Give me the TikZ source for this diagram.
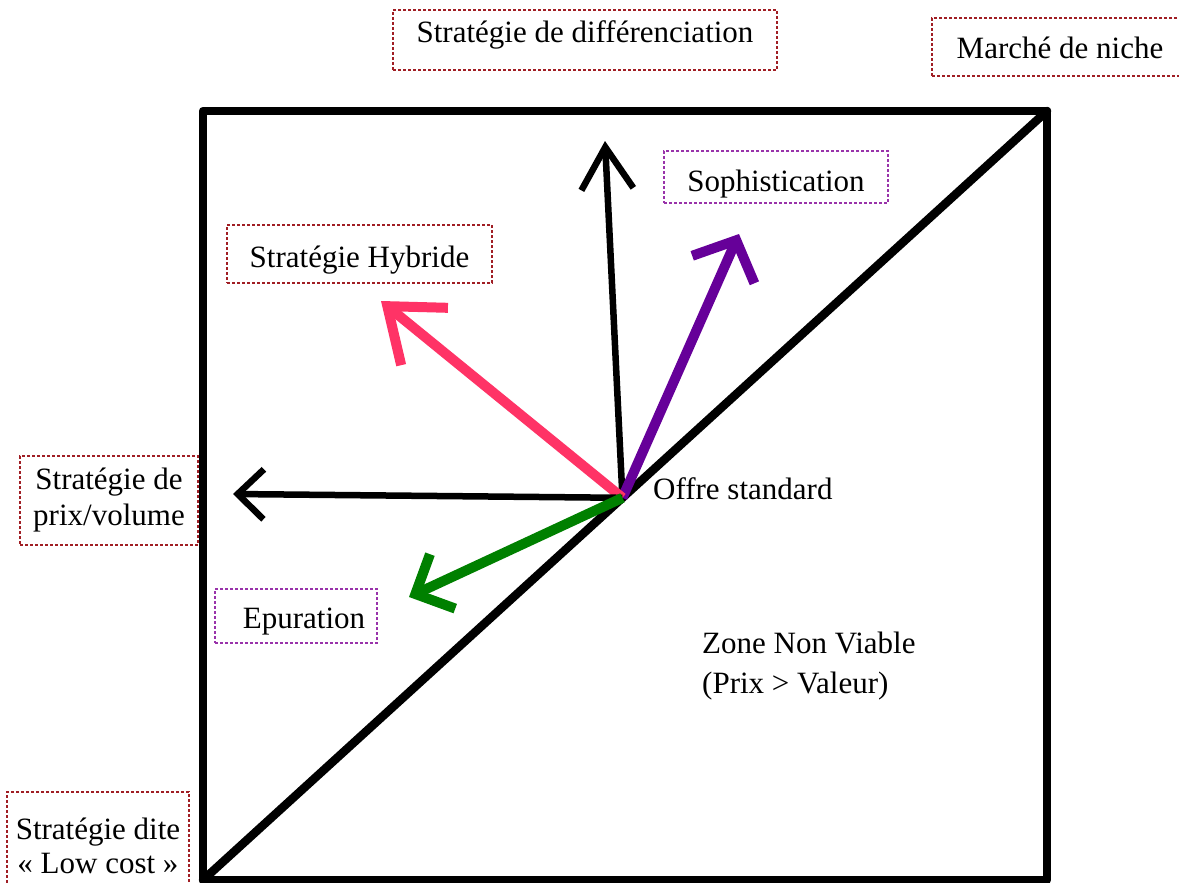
\documentclass[tikz,border=0pt]{standalone}
\usepackage{fontspec}
\setmainfont{Liberation Serif}
\usetikzlibrary{arrows.meta,calc}
\definecolor{boxred}{HTML}{A01E24}
\definecolor{boxpurple}{HTML}{9933AA}
\definecolor{arrpink}{HTML}{FF3366}
\definecolor{arrpurple}{HTML}{660099}
\definecolor{arrgreen}{HTML}{008000}
\newcommand{\mvtxt}[2]{\raisebox{#1}[\height][\depth]{#2}}
\tikzset{
  lbl/.style={font=\fontsize{31}{36}\selectfont, inner sep=0pt, align=center},
  dotbox/.style={lbl, draw=boxred, line width=1.4pt, dash pattern=on 3pt off 2pt, rectangle},
  dotboxp/.style={dotbox, draw=boxpurple},
  frame/.style={draw=black, line width=8.5pt, line join=round, outer sep=0pt, inner sep=0pt},
  blackarrow/.style={line width=6.5pt, black},
  colarrow/.style={line width=10pt},
}
\begin{document}
\begin{tikzpicture}[x=1pt,y=-1pt]
\useasboundingbox (0,0) rectangle (1179,883);

% square frame and diagonal
\node[frame, minimum width=844pt, minimum height=769pt] (sq) at (625,495.5) {};
\draw[line width=8.5pt, line cap=round] (sq.south west) -- (sq.north east);

\coordinate (O) at ($(sq.south west)!0.497!(sq.north east)$);
\coordinate (tipUp) at (605,141);
\coordinate (tipPurple) at (739,234);
\coordinate (tipPink) at (381,301);
\coordinate (tipLeft) at (233,494);
\coordinate (tipGreen) at (409,597);

% arrows
\draw[blackarrow, -{Straight Barb[length=42pt,width=52pt]}] (O) -- (tipUp);
\draw[colarrow, arrpurple, -{Straight Barb[length=32pt,width=68pt]}] (O) -- (tipPurple);
\draw[colarrow, arrpink, -{Straight Barb[length=48pt,width=74pt]}] (O) -- (tipPink);
\draw[blackarrow, -{Straight Barb[length=26pt,width=50pt]}] (O) -- (tipLeft);
\draw[colarrow, arrgreen, -{Straight Barb[length=30pt,width=60pt]}] (O) -- (tipGreen);

% labels
\node[dotbox, minimum width=384pt, minimum height=60pt] (diff) at (585,40) {\mvtxt{5pt}{Stratégie de différenciation}};
\node[dotbox, minimum width=256pt, minimum height=58pt] (niche) at (1060,47) {\mvtxt{-1pt}{Marché de niche}};
\node[dotboxp, minimum width=224pt, minimum height=52pt] (soph) at (776,177) {\mvtxt{-7pt}{Sophistication}};
\node[dotbox, minimum width=265pt, minimum height=58pt] (hyb) at (359.5,254) {\mvtxt{-6pt}{Stratégie Hybride}};
\node[dotbox, minimum width=178pt, minimum height=89pt] (prix) at (109,500.5) {Stratégie de\\prix/volume};
\node[dotboxp, minimum width=162pt, minimum height=54pt] (epur) at (296,616) {\mvtxt{-6pt}{\hspace*{16pt}Epuration}};
\node[dotbox, minimum width=182pt, minimum height=98pt] (low) at (98,841) {\mvtxt{-8pt}{\begin{tabular}{@{}c@{}}Stratégie dite\\[-2pt]« Low cost »\end{tabular}}};
\node[lbl, anchor=west] (offre) at (653,489) {Offre standard};
\node[lbl, anchor=west, align=left] (zone) at (702,666) {Zone Non Viable\\[4pt](Prix > Valeur)};
\end{tikzpicture}
\end{document}
